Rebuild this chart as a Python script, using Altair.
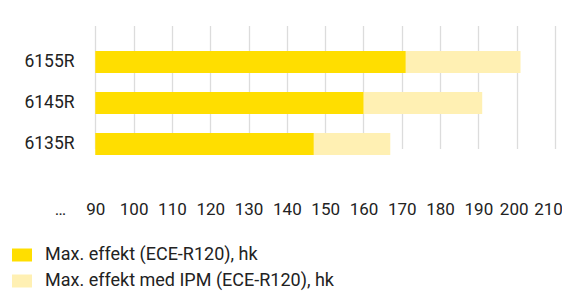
import altair as alt
import pandas as pd

# ---- data ----
models = ["6155R", "6145R", "6135R"]
max_hk = [171, 160, 147]          # Max. effekt (ECE-R120), hk
max_ipm_hk = [201, 191, 167]      # Max. effekt med IPM (ECE-R120), hk
series = ["Max. effekt (ECE-R120), hk", "Max. effekt med IPM (ECE-R120), hk"]
colors = ["#FFDE00", "#FFF0B3"]
tick_values = [80, 90, 100, 110, 120, 130, 140, 150, 160, 170, 180, 190, 200, 210]
axis_break = 80       # shown as "…"
bar_base = 90

rows = []
for m, v in zip(models, max_ipm_hk):
    rows.append({"model": m, "series": series[1], "value": v, "layer": 0})
for m, v in zip(models, max_hk):
    rows.append({"model": m, "series": series[0], "value": v, "layer": 1})
df = pd.DataFrame(rows)

FONT = "Roboto"
TXT = "#222222"
FS = 17.5
last = tick_values[-1]
second_last = tick_values[-2]

chart = alt.Chart(df).mark_bar().encode(
    x=alt.X(
        "value:Q",
        scale=alt.Scale(domain=[tick_values[0], tick_values[-1]], nice=False, zero=False),
        axis=alt.Axis(
            values=tick_values,
            title=None,
            domain=False,
            ticks=False,
            labelExpr=f"datum.value == {axis_break} ? '…' : datum.label",
            labelFont=FONT,
            labelFontSize=17,
            labelColor=TXT,
            labelPadding=24,
            labelFlush=False,
            labelOffset={
                "condition": [
                    {"test": f"datum.value == {last}", "value": -7},
                    {"test": f"datum.value == {second_last}", "value": -3},
                    {"test": f"datum.value == {axis_break}", "value": 3},
                ],
                "value": 0,
            },
            gridColor="#dcdcdc",
            gridWidth=1.3,
            gridOpacity={"condition": {"test": f"datum.value == {axis_break}", "value": 0}, "value": 1},
        ),
    ),
    x2=alt.datum(bar_base),
    y=alt.Y(
        "model:N",
        sort=models,
        scale=alt.Scale(range=[28.5, 151.5], paddingInner=0.463, paddingOuter=0.2315),
        axis=alt.Axis(
            title=None,
            domain=False,
            ticks=False,
            grid=False,
            offset=-38,
            labelPadding=21,
            labelFont=FONT,
            labelFontSize=FS,
            labelColor=TXT,
        ),
    ),
    color=alt.Color(
        "series:N",
        scale=alt.Scale(domain=series, range=colors),
        legend=alt.Legend(
            orient="none",
            legendX=-45,
            legendY=232,
            direction="vertical",
            title=None,
            symbolType="M-1,-0.65L1,-0.65L1,0.65L-1,0.65Z",
            symbolSize=400,
            symbolStrokeWidth=0,
            symbolOpacity=1,
            labelFont=FONT,
            labelFontSize=18,
            labelColor=TXT,
            labelOffset=13,
            rowPadding=7,
            labelLimit=500,
        ),
    ),
    order=alt.Order("layer:Q"),
).properties(
    width=498,
    height=164,
    autosize=alt.AutoSizeParams(type="none"),
    padding={"left": 49, "top": 5, "right": 7, "bottom": 114},
).configure_view(stroke=None)

chart.save("out.html", embed_options={"renderer": "svg", "actions": False})
